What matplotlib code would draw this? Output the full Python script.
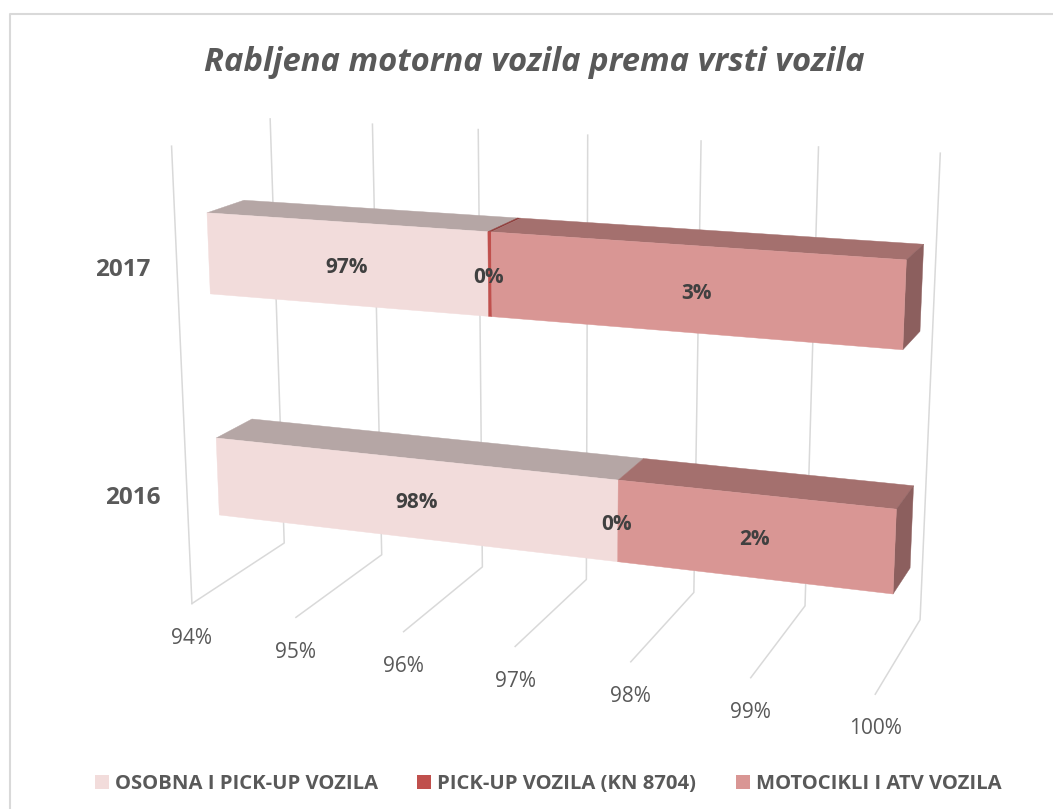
#Stacked 3D style bar chart: box geometry goes through a projection fitted to the wall grid
import numpy as np
import matplotlib
matplotlib.use('Agg')
import matplotlib.pyplot as plt
from matplotlib.patches import Patch, Polygon

plt.rcParams['font.family'] = ['Open Sans', 'DejaVu Sans']

title = 'Rabljena motorna vozila prema vrsti vozila'
years = ['2017', '2016']
series_names = ['OSOBNA I PICK-UP VOZILA', 'PICK-UP VOZILA (KN 8704)', 'MOTOCIKLI I ATV VOZILA']
osobna = [96.57, 97.7]
pickup = [0.03, 0.0]
motocikli = [3.40, 2.3]
axis_ticks = [94, 95, 96, 97, 98, 99, 100]

front_colors = ['#F2DCDB', '#C0504D', '#D99694']
top_colors = ['#B5A6A5', '#8F3F3D', '#A4706E']
side_color = '#8C5F5E'
grid_color = '#D9D9D9'

#Pixel positions of the wall grid, used only to calibrate the projection
front_floor = [(192,603),(296,617),(403,632),(515,647),(631,662),(751,678),(875,694)]
back_floor = [(284,543),(382,555),(483,567),(586,579),(694,593),(805,606),(920,619)]
back_top = [(270,119),(372,124),(478,130),(588,135),(701,141),(819,147),(940,153)]
left_top = (172,146)

#Height and depth of the boxes inside the unit walls
bar_low = [0.661, 0.161]
bar_high = [0.838, 0.338]
depth_front = 0.31
depth_back = 0.69
year_shift = [-12, -15]  # points, vertical offset of the category labels


def fit_projection():
    world = []
    pix = []
    for t, a, b, c in zip(axis_ticks, front_floor, back_floor, back_top):
        world += [(t,0,0), (t,0,1), (t,1,1)]
        pix += [a, b, c]
    world.append((94,1,0))
    pix.append(left_top)
    rows = []
    for (v,h,d), (x,y) in zip(world, pix):
        X = [(v-94)/6, h, d, 1]
        rows.append(X + [0,0,0,0] + [-x/1000*i for i in X])
        rows.append([0,0,0,0] + X + [-y/1000*i for i in X])
    return np.linalg.svd(np.array(rows))[2][-1].reshape(3,4)


P = fit_projection()


def project(v, h, d):
    q = P @ np.array([(v-94)/6, h, d, 1])
    return q[0]/q[2]*1000, q[1]/q[2]*1000


fig = plt.figure(figsize=(10.53, 8.09), dpi=100)
ax = fig.add_axes([0, 0, 1, 1])
ax.set_xlim(0, 1053)
ax.set_ylim(809, 0)
ax.axis('off')

#Chart frame
ax.plot([10, 10, 1053], [809, 14, 14], color=grid_color, lw=1.5)

ax.text(534, 62, title, ha='center', va='center', fontsize=23.6, style='italic',
        fontweight='bold', color='#595959')

#Walls and floor
for t in axis_ticks:
    pts = [project(t,1,1), project(t,0,1), project(t,0,0)]
    ax.plot([p[0] for p in pts], [p[1] for p in pts], color=grid_color, lw=1.1, zorder=1)
    ax.annotate('{}%'.format(t), project(t,0,0), xytext=(0,-25), textcoords='offset points',
                ha='center', va='center', fontsize=15, color='#595959')
pts = [project(94,1,0), project(94,0,0)]
ax.plot([p[0] for p in pts], [p[1] for p in pts], color=grid_color, lw=1.1, zorder=1)

#Boxes
for i, year in enumerate(years):
    lo, hi = bar_low[i], bar_high[i]
    start = 94
    values = [osobna[i], pickup[i], motocikli[i]]
    for j, val in enumerate(values):
        # the axis starts at 94 so the first box is cut there
        end = start + val if j > 0 else val
        front = [project(start,hi,depth_front), project(end,hi,depth_front),
                 project(end,lo,depth_front), project(start,lo,depth_front)]
        top = [project(start,hi,depth_front), project(end,hi,depth_front),
               project(end,hi,depth_back), project(start,hi,depth_back)]
        if val > 0:
            ax.add_patch(Polygon(top, closed=True, fc=top_colors[j], ec=top_colors[j], lw=0.3, zorder=2))
            ax.add_patch(Polygon(front, closed=True, fc=front_colors[j], ec=front_colors[j], lw=0.3, zorder=3))
        if j == len(values)-1:
            side = [project(end,hi,depth_front), project(end,hi,depth_back),
                    project(end,lo,depth_back), project(end,lo,depth_front)]
            ax.add_patch(Polygon(side, closed=True, fc=side_color, ec=side_color, lw=0.3, zorder=2))
        cx = np.mean([p[0] for p in front])
        cy = np.mean([p[1] for p in front])
        ax.annotate('{:.0f}%'.format(val), (cx, cy), xytext=(-1,-2.5), textcoords='offset points',
                    ha='center', va='center', fontsize=15, fontweight='bold', color='#404040', zorder=5)
        start = end
    lx, ly = project(94, (lo+hi)/2, depth_front)
    ax.annotate(year, (lx, ly), xytext=(-61.5,year_shift[i]), textcoords='offset points', ha='center',
                va='center', fontsize=17.5, fontweight='bold', color='#595959')

handles = [Patch(fc=c, ec='none') for c in front_colors]
ax.legend(handles, series_names, ncol=3, loc='center', bbox_to_anchor=(548, 784),
          bbox_transform=ax.transData, frameon=False, handlelength=0.69,
          handleheight=0.69, handletextpad=0.3, columnspacing=1.95,
          prop={'size':14.6, 'weight':'bold'}, labelcolor='#595959')

fig.savefig('out.png', dpi=100)
